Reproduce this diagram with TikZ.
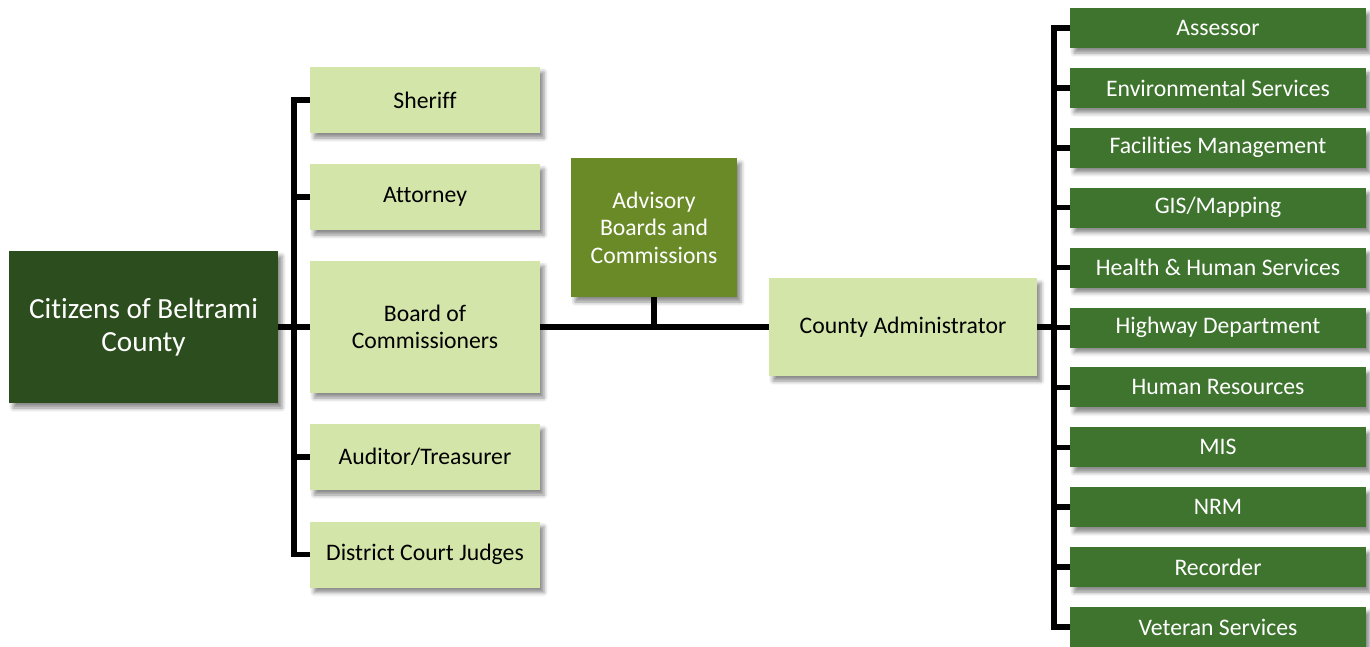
\documentclass[tikz,border=0pt]{standalone}
\usepackage{fontspec}
\setmainfont{Carlito}[Ligatures=NoCommon, RawFeature={-liga;-clig;-dlig;-calt}]
\usetikzlibrary{shadows.blur}

\definecolor{citizen}{HTML}{2C4E1E}
\definecolor{lightbox}{HTML}{D4E5AA}
\definecolor{advisory}{HTML}{6A8A28}
\definecolor{dept}{HTML}{3E742E}

\tikzset{
  boxbase/.style={rectangle, inner sep=2pt, align=center,
    blur shadow={shadow xshift=4pt, shadow yshift=-5pt,
                 shadow blur radius=4pt, shadow opacity=45}},
  citizenbox/.style={boxbase, fill=citizen, text=white,
    minimum width=269pt, minimum height=152pt,
    font=\fontsize{29.2}{33}\selectfont},
  officebox/.style={boxbase, fill=lightbox, text=black,
    minimum width=230pt, minimum height=66pt,
    font=\fontsize{23.7}{27.5}\selectfont},
  advisorybox/.style={boxbase, fill=advisory, text=white,
    minimum width=166pt, minimum height=139pt,
    font=\fontsize{23.7}{27.5}\selectfont},
  adminbox/.style={boxbase, fill=lightbox, text=black,
    minimum width=268pt, minimum height=98pt,
    font=\fontsize{23.7}{27.5}\selectfont},
  deptbox/.style={boxbase, fill=dept, text=white,
    minimum width=296pt, minimum height=40pt,
    font=\fontsize{23.7}{27.5}\selectfont},
  link/.style={line width=5.5pt, draw=black}
}

\begin{document}
\begin{tikzpicture}[x=1pt, y=-1pt]
\useasboundingbox (0,0) rectangle (1370,646);

% citizens and elected offices
\node[citizenbox] (citizens) at (143.5,327) {Citizens of Beltrami\\County};
\node[officebox] (sheriff)  at (425,100) {Sheriff};
\node[officebox] (attorney) at (425,197) {Attorney};
\node[officebox, minimum height=132pt] (board) at (425,327) {Board of\\Commissioners};
\node[officebox] (auditor)  at (425,457) {Auditor/Treasurer};
\node[officebox] (judges)   at (425,554.5) {District Court Judges};

% advisory boards and administrator
\node[advisorybox] (advisory) at (654,227.5) {Advisory\\Boards and\\Commissions};
\node[adminbox] (admin) at (903,327) {County Administrator};

% departments
\foreach \name/\label [count=\i from 0] in {
    assessor/{Assessor},
    env/{Environmental Services},
    facilities/{Facilities Management},
    gis/{GIS/Mapping},
    health/{Health \& Human Services},
    highway/{Highway Department},
    hr/{Human Resources},
    mis/{MIS},
    nrm/{NRM},
    recorder/{Recorder},
    veteran/{Veteran Services}}
  \node[deptbox] (\name) at (1218,{28+59.9*\i}) {\label};

% left spine
\coordinate (lspine) at (294,327);
\draw[link] (citizens.east) -- (board.west);
\draw[link] (sheriff.west) -| (lspine) |- (judges.west);
\foreach \n in {attorney,auditor}
  \draw[link] (\n.west) -- (\n.west -| lspine);

% board to administrator, with advisory boards attached
\coordinate (advjoin) at (advisory.south |- board.east);
\draw[link] (board.east) -- (admin.west);
\draw[link] (advisory.south) -- (advjoin);

% right spine
\coordinate (rspine) at (1054,327);
\draw[link] (admin.east) -- (admin.east -| rspine);
\draw[link] (assessor.west) -| (rspine) |- (veteran.west);
\foreach \n in {env,facilities,gis,health,highway,hr,mis,nrm,recorder}
  \draw[link] (\n.west) -- (\n.west -| rspine);
\end{tikzpicture}
\end{document}
